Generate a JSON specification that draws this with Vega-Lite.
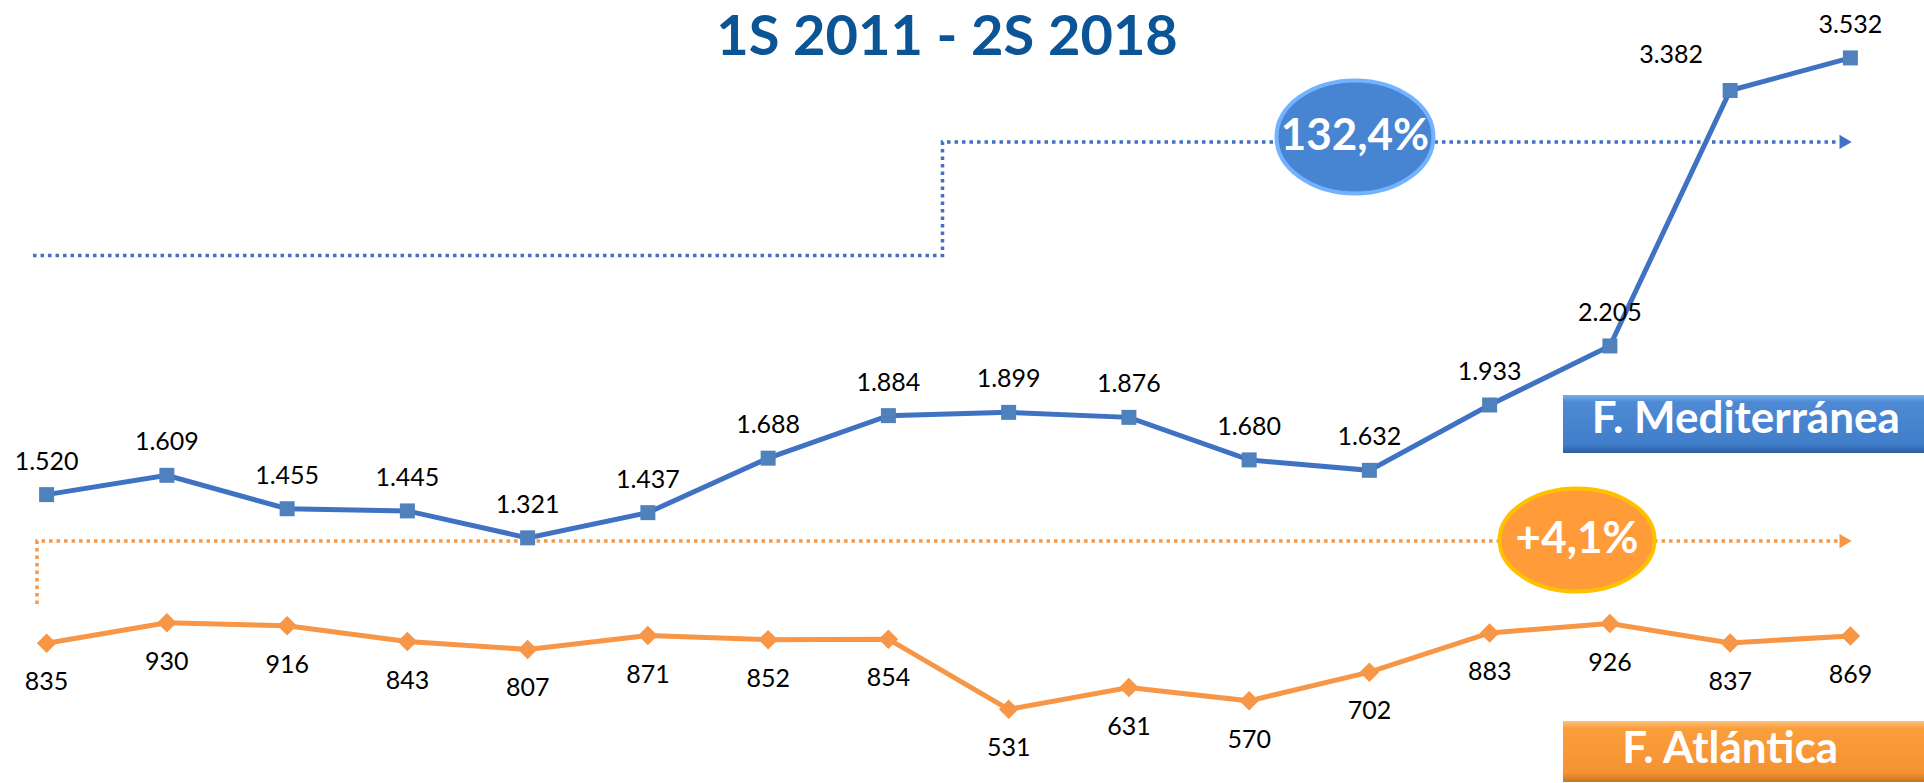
{
  "$schema": "https://vega.github.io/schema/vega-lite/v6.json",
  "width": 1924,
  "height": 783,
  "autosize": {"type": "fit", "contains": "padding"},
  "padding": 0,
  "background": "#ffffff",
  "config": {
    "view": {"stroke": null},
    "locale": {"number": {"decimal": ",", "thousands": ".", "grouping": [3], "currency": ["", " €"]}},
    "text": {"font": "Lato"}
  },
  "datasets": {
    "series": [
      {"periodo": "1S 2011", "i": 0, "serie": "F. Mediterránea", "valor": 1520},
      {"periodo": "2S 2011", "i": 1, "serie": "F. Mediterránea", "valor": 1609},
      {"periodo": "1S 2012", "i": 2, "serie": "F. Mediterránea", "valor": 1455},
      {"periodo": "2S 2012", "i": 3, "serie": "F. Mediterránea", "valor": 1445},
      {"periodo": "1S 2013", "i": 4, "serie": "F. Mediterránea", "valor": 1321},
      {"periodo": "2S 2013", "i": 5, "serie": "F. Mediterránea", "valor": 1437},
      {"periodo": "1S 2014", "i": 6, "serie": "F. Mediterránea", "valor": 1688},
      {"periodo": "2S 2014", "i": 7, "serie": "F. Mediterránea", "valor": 1884},
      {"periodo": "1S 2015", "i": 8, "serie": "F. Mediterránea", "valor": 1899},
      {"periodo": "2S 2015", "i": 9, "serie": "F. Mediterránea", "valor": 1876},
      {"periodo": "1S 2016", "i": 10, "serie": "F. Mediterránea", "valor": 1680},
      {"periodo": "2S 2016", "i": 11, "serie": "F. Mediterránea", "valor": 1632},
      {"periodo": "1S 2017", "i": 12, "serie": "F. Mediterránea", "valor": 1933},
      {"periodo": "2S 2017", "i": 13, "serie": "F. Mediterránea", "valor": 2205},
      {"periodo": "1S 2018", "i": 14, "serie": "F. Mediterránea", "valor": 3382},
      {"periodo": "2S 2018", "i": 15, "serie": "F. Mediterránea", "valor": 3532},
      {"periodo": "1S 2011", "i": 0, "serie": "F. Atlántica", "valor": 835},
      {"periodo": "2S 2011", "i": 1, "serie": "F. Atlántica", "valor": 930},
      {"periodo": "1S 2012", "i": 2, "serie": "F. Atlántica", "valor": 916},
      {"periodo": "2S 2012", "i": 3, "serie": "F. Atlántica", "valor": 843},
      {"periodo": "1S 2013", "i": 4, "serie": "F. Atlántica", "valor": 807},
      {"periodo": "2S 2013", "i": 5, "serie": "F. Atlántica", "valor": 871},
      {"periodo": "1S 2014", "i": 6, "serie": "F. Atlántica", "valor": 852},
      {"periodo": "2S 2014", "i": 7, "serie": "F. Atlántica", "valor": 854},
      {"periodo": "1S 2015", "i": 8, "serie": "F. Atlántica", "valor": 531},
      {"periodo": "2S 2015", "i": 9, "serie": "F. Atlántica", "valor": 631},
      {"periodo": "1S 2016", "i": 10, "serie": "F. Atlántica", "valor": 570},
      {"periodo": "2S 2016", "i": 11, "serie": "F. Atlántica", "valor": 702},
      {"periodo": "1S 2017", "i": 12, "serie": "F. Atlántica", "valor": 883},
      {"periodo": "2S 2017", "i": 13, "serie": "F. Atlántica", "valor": 926},
      {"periodo": "1S 2018", "i": 14, "serie": "F. Atlántica", "valor": 837},
      {"periodo": "2S 2018", "i": 15, "serie": "F. Atlántica", "valor": 869}
    ],
    "tendencia": [
      {"serie": "F. Mediterránea", "orden": 0, "x": -0.113, "y": 2622},
      {"serie": "F. Mediterránea", "orden": 1, "x": 7.45, "y": 2622},
      {"serie": "F. Mediterránea", "orden": 2, "x": 7.45, "y": 3145},
      {"serie": "F. Mediterránea", "orden": 3, "x": 14.9, "y": 3145},
      {"serie": "F. Atlántica", "orden": 0, "x": -0.08, "y": 1016},
      {"serie": "F. Atlántica", "orden": 1, "x": -0.08, "y": 1306},
      {"serie": "F. Atlántica", "orden": 2, "x": 14.9, "y": 1306}
    ],
    "flechas": [
      {"serie": "F. Mediterránea", "x": 14.96, "y": 3145},
      {"serie": "F. Atlántica", "x": 14.96, "y": 1306}
    ],
    "variacion": [
      {"serie": "F. Mediterránea", "x": 10.88, "y": 3168, "texto": "132,4%"},
      {"serie": "F. Atlántica", "x": 12.727, "y": 1311, "texto": "+4,1%"}
    ],
    "rotulos": [
      {"serie": "F. Mediterránea", "x": 12.61, "x2": 15.612, "y": 1979, "y2": 1712, "xt": 14.13, "yt": 1863},
      {"serie": "F. Atlántica", "x": 12.61, "x2": 15.612, "y": 477, "y2": 196, "xt": 14.0, "yt": 343}
    ],
    "titulo": [
      {"texto": "1S 2011 - 2S 2018", "x": 7.488, "y": 3545}
    ]
  },
  "layer": [
    {
      "data": {"name": "tendencia"},
      "mark": {"type": "line", "strokeDash": [3.5, 4], "strokeWidth": 3.5, "strokeCap": "butt"},
      "encoding": {
        "x": {"field": "x", "type": "quantitative", "scale": {"domain": [-0.3877, 15.612], "nice": false, "zero": false}, "axis": null},
        "y": {"field": "y", "type": "quantitative", "scale": {"domain": [191.5, 3798.8], "nice": false, "zero": false}, "axis": null},
        "order": {"field": "orden"},
        "detail": {"field": "serie"},
        "color": {"field": "serie", "type": "nominal", "scale": {"domain": ["F. Mediterránea", "F. Atlántica"], "range": ["#3F72C2", "#F79646"]}, "legend": null}
      }
    },
    {
      "data": {"name": "flechas"},
      "mark": {"type": "point", "shape": "triangle-right", "filled": true, "size": 200, "opacity": 1},
      "encoding": {
        "x": {"field": "x", "type": "quantitative", "axis": null},
        "y": {"field": "y", "type": "quantitative", "axis": null},
        "color": {"field": "serie", "type": "nominal", "legend": null}
      }
    },
    {
      "data": {"name": "series"},
      "mark": {"type": "line", "strokeWidth": 5},
      "encoding": {
        "x": {"field": "i", "type": "quantitative", "axis": null},
        "y": {"field": "valor", "type": "quantitative", "axis": null},
        "detail": {"field": "serie"},
        "color": {"field": "serie", "type": "nominal", "scale": {"domain": ["F. Mediterránea", "F. Atlántica"], "range": ["#4F81BD", "#F79646"]}, "legend": null}
      }
    },
    {
      "data": {"name": "series"},
      "transform": [{"filter": "datum.serie === 'F. Mediterránea'"}],
      "mark": {"type": "point", "shape": "square", "filled": true, "size": 225, "opacity": 1, "color": "#4F81BD"},
      "encoding": {
        "x": {"field": "i", "type": "quantitative", "axis": null},
        "y": {"field": "valor", "type": "quantitative", "axis": null}
      }
    },
    {
      "data": {"name": "series"},
      "transform": [{"filter": "datum.serie === 'F. Atlántica'"}],
      "mark": {"type": "point", "shape": "diamond", "filled": true, "size": 380, "opacity": 1, "color": "#F79646"},
      "encoding": {
        "x": {"field": "i", "type": "quantitative", "axis": null},
        "y": {"field": "valor", "type": "quantitative", "axis": null}
      }
    },
    {
      "data": {"name": "series"},
      "transform": [{"filter": "datum.serie === 'F. Mediterránea' && datum.i !== 14"}],
      "mark": {"type": "text", "dy": -33, "fontSize": 25, "color": "#000000", "font": "Lato"},
      "encoding": {
        "x": {"field": "i", "type": "quantitative", "axis": null},
        "y": {"field": "valor", "type": "quantitative", "axis": null},
        "text": {"field": "valor", "type": "quantitative", "format": ",d"}
      }
    },
    {
      "data": {"name": "series"},
      "transform": [{"filter": "datum.serie === 'F. Mediterránea' && datum.i === 14"}],
      "mark": {"type": "text", "dy": -35, "dx": -59, "fontSize": 25, "color": "#000000", "font": "Lato"},
      "encoding": {
        "x": {"field": "i", "type": "quantitative", "axis": null},
        "y": {"field": "valor", "type": "quantitative", "axis": null},
        "text": {"field": "valor", "type": "quantitative", "format": ",d"}
      }
    },
    {
      "data": {"name": "series"},
      "transform": [{"filter": "datum.serie === 'F. Atlántica'"}],
      "mark": {"type": "text", "dy": 39, "fontSize": 25, "color": "#000000", "font": "Lato"},
      "encoding": {
        "x": {"field": "i", "type": "quantitative", "axis": null},
        "y": {"field": "valor", "type": "quantitative", "axis": null},
        "text": {"field": "valor", "type": "quantitative", "format": ",d"}
      }
    },
    {
      "data": {"name": "variacion"},
      "transform": [{"filter": "datum.serie === 'F. Mediterránea'"}],
      "mark": {"type": "point", "shape": "M1,0C1,0.3974 0.552,0.72 0,0.72C-0.552,0.72 -1,0.3974 -1,0C-1,-0.3974 -0.552,-0.72 0,-0.72C0.552,-0.72 1,-0.3974 1,0Z", "size": 24649, "filled": true, "fill": "#4785D3", "stroke": "#72B2FF", "strokeWidth": 4, "opacity": 1, "fillOpacity": 1},
      "encoding": {
        "x": {"field": "x", "type": "quantitative", "axis": null},
        "y": {"field": "y", "type": "quantitative", "axis": null}
      }
    },
    {
      "data": {"name": "variacion"},
      "transform": [{"filter": "datum.serie === 'F. Atlántica'"}],
      "mark": {"type": "point", "shape": "M1,0C1,0.367 0.552,0.665 0,0.665C-0.552,0.665 -1,0.367 -1,0C-1,-0.367 -0.552,-0.665 0,-0.665C0.552,-0.665 1,-0.367 1,0Z", "size": 24025, "filled": true, "fill": "#FF9B38", "stroke": "#FFC000", "strokeWidth": 4, "opacity": 1, "fillOpacity": 1},
      "encoding": {
        "x": {"field": "x", "type": "quantitative", "axis": null},
        "y": {"field": "y", "type": "quantitative", "axis": null}
      }
    },
    {
      "data": {"name": "variacion"},
      "mark": {"type": "text", "fontSize": 44, "fontWeight": "bold", "color": "#ffffff", "font": "Lato", "baseline": "middle", "align": "center"},
      "encoding": {
        "x": {"field": "x", "type": "quantitative", "axis": null},
        "y": {"field": "y", "type": "quantitative", "axis": null},
        "text": {"field": "texto"}
      }
    },
    {
      "data": {"name": "rotulos"},
      "transform": [{"filter": "datum.serie === 'F. Mediterránea'"}],
      "mark": {"type": "rect", "clip": true, "fill": {"gradient": "linear", "x1": 0, "y1": 0, "x2": 0, "y2": 1, "stops": [{"offset": 0, "color": "#7AAEE8"}, {"offset": 0.12, "color": "#4E8AD4"}, {"offset": 0.85, "color": "#417ECB"}, {"offset": 1, "color": "#2D5C9C"}]}},
      "encoding": {
        "x": {"field": "x", "type": "quantitative", "axis": null},
        "x2": {"field": "x2"},
        "y": {"field": "y", "type": "quantitative", "axis": null},
        "y2": {"field": "y2"}
      }
    },
    {
      "data": {"name": "rotulos"},
      "transform": [{"filter": "datum.serie === 'F. Atlántica'"}],
      "mark": {"type": "rect", "clip": true, "fill": {"gradient": "linear", "x1": 0, "y1": 0, "x2": 0, "y2": 1, "stops": [{"offset": 0, "color": "#FFC27A"}, {"offset": 0.12, "color": "#FB9E3C"}, {"offset": 0.85, "color": "#F59232"}, {"offset": 1, "color": "#C8741E"}]}},
      "encoding": {
        "x": {"field": "x", "type": "quantitative", "axis": null},
        "x2": {"field": "x2"},
        "y": {"field": "y", "type": "quantitative", "axis": null},
        "y2": {"field": "y2"}
      }
    },
    {
      "data": {"name": "rotulos"},
      "mark": {"type": "text", "fontSize": 44, "fontWeight": "bold", "color": "#ffffff", "font": "Lato", "baseline": "middle", "align": "center"},
      "encoding": {
        "x": {"field": "xt", "type": "quantitative", "axis": null},
        "y": {"field": "yt", "type": "quantitative", "axis": null},
        "text": {"field": "serie"}
      }
    },
    {
      "data": {"name": "titulo"},
      "mark": {"type": "text", "fontSize": 56, "fontWeight": "bold", "color": "#0B5596", "font": "Lato", "baseline": "alphabetic", "align": "center"},
      "encoding": {
        "x": {"field": "x", "type": "quantitative", "axis": null},
        "y": {"field": "y", "type": "quantitative", "axis": null},
        "text": {"field": "texto"}
      }
    }
  ]
}
